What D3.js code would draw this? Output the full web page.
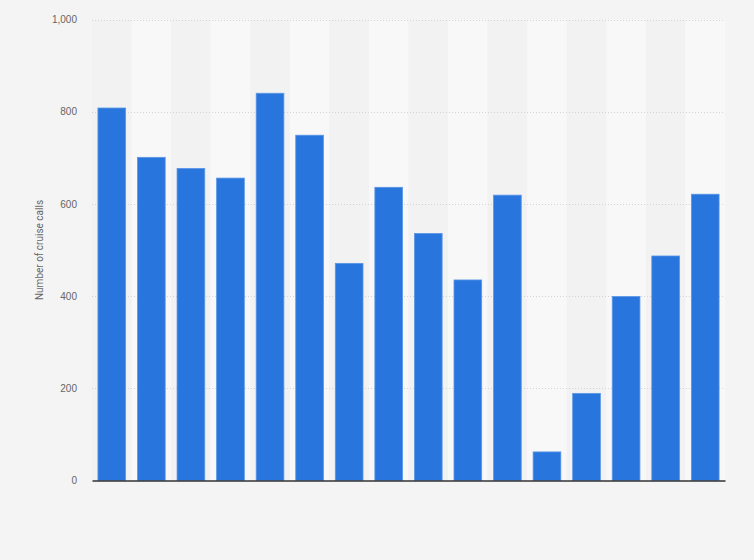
<!DOCTYPE html>
<html>
<head>
<meta charset="utf-8">
<script src="https://cdn.jsdelivr.net/npm/d3@7/dist/d3.min.js"></script>
<style>
  html, body { margin: 0; padding: 0; background: #f4f4f4; }
  svg { display: block; font-family: Roboto, "Open Sans", Arial, sans-serif; }
</style>
</head>
<body>
<svg id="chart" width="754" height="560"></svg>
<script>
const categories = ["1","2","3","4","5","6","7","8","9","10","11","12","13","14","15","16"];
const values = [808, 701, 677, 656, 840, 749, 471, 636, 536, 435, 619, 62, 189, 399, 487, 621];
const yTicks = [0, 200, 400, 600, 800, 1000];
const yTitle = "Number of cruise calls";

const svg = d3.select("#chart");
const margin = { left: 92, right: 29, top: 19.5, bottom: 79.5 };
const W = 754, H = 560;
const x = d3.scaleBand().domain(categories).range([margin.left, W - margin.right]).paddingInner(0.3).paddingOuter(0.15);
const xBands = d3.scaleBand().domain(categories).range([margin.left, W - margin.right]).padding(0);
const y = d3.scaleLinear().domain([0, 1000]).range([H - margin.bottom, margin.top]);

// background
svg.append("rect").attr("width", W).attr("height", H).attr("fill", "#f4f4f4");

// alternating column bands
svg.append("g").selectAll("rect").data(categories).join("rect")
  .attr("x", d => xBands(d))
  .attr("y", y(1000))
  .attr("width", xBands.bandwidth())
  .attr("height", y(0) - y(1000))
  .attr("fill", (d, i) => i % 2 === 1 ? "#f8f8f8" : "#f2f2f2");

// gridlines
svg.append("g").selectAll("line").data(yTicks.filter(t => t > 0)).join("line")
  .attr("x1", margin.left).attr("x2", W - margin.right)
  .attr("y1", d => Math.round(y(d)) + 0.5).attr("y2", d => Math.round(y(d)) + 0.5)
  .attr("stroke", "#d4d4d4").attr("stroke-width", 1).attr("stroke-dasharray", "1,2");

// y axis labels
const yAxis = d3.axisLeft(y).tickValues(yTicks).tickSize(0).tickPadding(0).tickFormat(d3.format(","));
const ya = svg.append("g").attr("transform", `translate(${margin.left - 15},0)`).call(yAxis);
ya.select(".domain").remove();
ya.selectAll("text").attr("fill", "#666").attr("font-size", "10px");

// bars
svg.append("g").selectAll("rect").data(values).join("rect")
  .attr("x", (d, i) => x(categories[i]))
  .attr("y", d => y(d))
  .attr("width", x.bandwidth())
  .attr("height", d => y(0) - y(d))
  .attr("fill", "#2876dd")
  .attr("stroke", "#5b96e6")
  .attr("stroke-width", 0.8);

// x axis baseline
const xAxis = d3.axisBottom(x).tickSize(0).tickFormat("");
const xa = svg.append("g").attr("transform", `translate(0,${y(0)})`).call(xAxis);
xa.select(".domain").attr("stroke", "#333").attr("stroke-width", 1.5);

// y title
svg.append("text")
  .attr("transform", `translate(43,${(y(0) + y(1000)) / 2}) rotate(-90)`)
  .attr("text-anchor", "middle")
  .attr("fill", "#666")
  .attr("font-size", "10px")
  .text(yTitle);
</script>
</body>
</html>
